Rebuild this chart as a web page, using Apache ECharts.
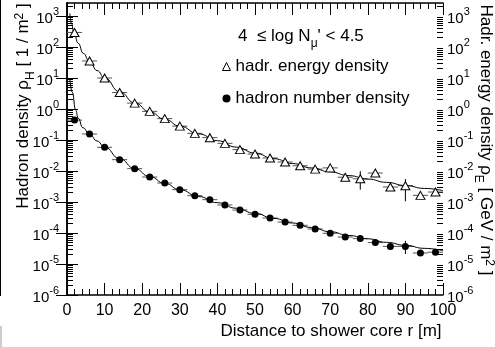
<!DOCTYPE html>
<html><head><meta charset="utf-8">
<script src="https://cdn.jsdelivr.net/npm/echarts@6/dist/echarts.min.js"></script>
<style>html,body{margin:0;padding:0;background:#fff}#c{width:495px;height:347px}</style>
</head><body><div id="c"></div>
<script>
// ---- data ----
const binCenters = [2,6,10,14,18,22,26,30,34,38,42,46,50,54,58,62,66,70,74,78,82,86,90,94,98];
const energyDensity = [295,35.5,10,3.4,1.55,0.84,0.49,0.28,0.164,0.119,0.078,0.049,0.0353,0.0263,0.0195,0.0148,0.0115,0.0126,0.0063,0.0056,0.0086,0.00305,0.00336,0.00164,0.0021];
const numberDensity = [0.44,0.156,0.058,0.0232,0.0119,0.0064,0.0041,0.0025,0.0016,0.00119,0.0008,0.00055,0.0004,0.000305,0.000226,0.000177,0.000135,0.000098,0.000074,0.000066,0.000049,0.000037,0.000037,0.0000227,0.000024];
const energyFitX = [0.75,1.2,1.8,3,4.3,6,8,10,14,18,22,26,30,35,40,45,50,55,60,65,70,75,80,85,90,95,100];
const energyFitY = [1230,575,295,132,63,34,17.4,10,3.6,1.58,0.81,0.47,0.28,0.158,0.095,0.059,0.038,0.025,0.0174,0.0126,0.0093,0.0071,0.0055,0.0043,0.0034,0.00275,0.00232];
const numberFitX = [0.75,1.4,2.3,3,4.2,6,8,10,14,18,22,26,30,35,40,45,50,55,60,65,70,75,80,85,90,95,100];
const numberFitY = [9.3,3.5,0.93,0.50,0.25,0.155,0.093,0.059,0.025,0.012,0.0066,0.004,0.0025,0.0015,0.00095,0.00063,0.00043,0.000295,0.00021,0.000151,0.00011,0.000083,0.000065,0.00005,0.00004,0.000032,0.000027];
const energyErrX = [78,90];
const energyErrLow = [0.0025,0.00105];
const energyErrHigh = [0.0099,0.0055];
const numberErrX = [90];
const numberErrLow = [0.000021];
const numberErrHigh = [0.000056];
const binHalfWidth = 2;
const seriesNames = ['hadr. energy density','hadron number density'];
const xMin = 0, xMax = 100, xStep = 10;
const yMin = 1e-6, yMax = Math.pow(10, 3.42);

// ---- helpers ----
const FONT = '"Liberation Sans", Arial, Helvetica, sans-serif';
const zip = (a, b) => a.map((v, i) => [v, b[i]]);
const minorLogTicks = [];
for (let d = -6; d <= 3; d++) for (let k = 2; k <= 9; k++) { const v = k * Math.pow(10, d); if (v < yMax) minorLogTicks.push(v); }
function decadeLabel(v) {
  const l = Math.log10(v), e = Math.round(l);
  if (Math.abs(l - e) > 1e-6) return '';
  return '{b|10}{s|' + (e < 0 ? '-' + (-e) : '' + e) + '}';
}
const labelRich = {
  b: { fontSize: 15, fontFamily: FONT, color: '#000', lineHeight: 20, verticalAlign: 'bottom' },
  s: { fontSize: 11, fontFamily: FONT, color: '#000', lineHeight: 11, verticalAlign: 'top' }
};
function makeRich(size) {
  return {
    t: { fontSize: size, fontFamily: FONT, fontWeight: 'normal', color: '#000', lineHeight: size + 2 },
    sub: { fontSize: Math.round(size * 0.68), fontFamily: FONT, fontWeight: 'normal', color: '#000', lineHeight: 10, verticalAlign: 'bottom', padding: [0,0,-4,0] },
    sup: { fontSize: Math.round(size * 0.68), fontFamily: FONT, fontWeight: 'normal', color: '#000', lineHeight: 10, verticalAlign: 'top' }
  };
}
function mainY(pos, name, gap, rot, pad) {
  return {
    type: 'log', position: pos, min: yMin, max: yMax, logBase: 10, splitNumber: 10,
    axisLine: { show: true, lineStyle: { color: '#000', width: 1.5 } },
    axisTick: { show: true, inside: true, length: 11, lineStyle: { color: '#000', width: 1 } },
    axisLabel: { show: true, formatter: decadeLabel, rich: labelRich, margin: pos === 'left' ? 8 : 4, showMaxLabel: false },
    splitLine: { show: false },
    name: name, nameLocation: 'middle', nameGap: gap, nameRotate: rot, nameMoveOverlap: false,
    nameTextStyle: { rich: makeRich(17), padding: pad }
  };
}
function minorY(pos) {
  return {
    type: 'log', position: pos, min: yMin, max: yMax, logBase: 10,
    axisLine: { show: false },
    axisTick: { show: true, inside: true, length: 6, customValues: minorLogTicks, lineStyle: { color: '#000', width: 1 } },
    axisLabel: { show: false }, splitLine: { show: false }
  };
}
function xAx(pos, labels) {
  return {
    type: 'value', position: pos, min: xMin, max: xMax, interval: xStep,
    axisLine: { show: true, lineStyle: { color: '#000', width: 1.5 } },
    axisTick: { show: true, inside: true, length: 12, lineStyle: { color: '#000', width: 1 } },
    minorTick: { show: true, splitNumber: 5, length: 6, lineStyle: { color: '#000', width: 1 } },
    axisLabel: { show: labels, fontSize: 16, fontFamily: FONT, color: '#000', margin: 8, hideOverlap: false },
    splitLine: { show: false }, minorSplitLine: { show: false }
  };
}
function hBar(params, api) {
  const x = api.value(0), y = api.value(1);
  const p1 = api.coord([x - binHalfWidth, y]), p2 = api.coord([x + binHalfWidth, y]);
  return { type: 'line', shape: { x1: p1[0], y1: p1[1], x2: p2[0], y2: p2[1] }, style: { stroke: '#555', lineWidth: 1 } };
}
function vBar(params, api) {
  const x = api.value(0);
  const p1 = api.coord([x, api.value(1)]), p2 = api.coord([x, api.value(2)]);
  return { type: 'line', shape: { x1: p1[0], y1: p1[1], x2: p2[0], y2: p2[1] }, style: { stroke: '#000', lineWidth: 1 } };
}

const chart = echarts.init(document.getElementById('c'), null, { renderer: 'canvas' });
const xName = xAx('bottom', true);
Object.assign(xName, {
  name: 'Distance to shower core r [m]', nameLocation: 'middle', nameGap: 28, nameMoveOverlap: false,
  nameTextStyle: { fontSize: 17, fontFamily: FONT, color: '#000', verticalAlign: 'top', padding: [0, 0, 0, 152] }
});
chart.setOption({
  animation: false,
  backgroundColor: '#fff',
  grid: { left: 67, right: 52, top: 3, bottom: 52, containLabel: false, outerBoundsMode: 'none' },
  title: {
    text: '{t|4  \u2264 log N}{sub|\u03bc}{t|\' < 4.5}', left: 233, top: 22,
    textStyle: { fontWeight: 'normal', rich: makeRich(17) }
  },
  legend: {
    orient: 'vertical', left: 217, top: 52, itemWidth: 8, itemHeight: 8, itemGap: 13,
    textStyle: { fontSize: 17, fontFamily: FONT, color: '#000', lineHeight: 19 },
    data: [
      { name: seriesNames[0], icon: 'triangle', itemStyle: { color: '#fff', borderColor: '#000', borderWidth: 1 } },
      { name: seriesNames[1], icon: 'circle', itemStyle: { color: '#000', borderWidth: 0 } }
    ]
  },
  xAxis: [xName, xAx('top', false)],
  yAxis: [
    mainY('left', '{t|Hadron density \u03c1}{sub|H}{t| [ 1 / m}{sup|2}{t| ]}', 34, 90, [0, 0, 0, 86]),
    mainY('right', '{t|Hadr. energy density \u03c1}{sub|E}{t| [ GeV / m}{sup|2}{t| ]}', 33, -90, [0, 18, 0, 0]),
    minorY('left'), minorY('right')
  ],
  graphic: [
    { type: 'line', shape: { x1: 0.5, y1: 0, x2: 0.5, y2: 296 }, style: { stroke: '#000', lineWidth: 1 } },
    { type: 'line', shape: { x1: 1, y1: 326, x2: 1, y2: 347 }, style: { stroke: '#ccc', lineWidth: 2 } }
  ],
  series: [
    { type: 'custom', name: 'eH', xAxisIndex: 0, yAxisIndex: 1, z: 1, renderItem: hBar, data: zip(binCenters, energyDensity) },
    { type: 'custom', name: 'nH', xAxisIndex: 0, yAxisIndex: 0, z: 1, renderItem: hBar, data: zip(binCenters, numberDensity) },
    { type: 'custom', name: 'eV', xAxisIndex: 0, yAxisIndex: 1, z: 1, renderItem: vBar, encode: { x: 0, y: [1, 2] },
      data: energyErrX.map((x, i) => [x, energyErrLow[i], energyErrHigh[i]]) },
    { type: 'custom', name: 'nV', xAxisIndex: 0, yAxisIndex: 0, z: 1, renderItem: vBar, encode: { x: 0, y: [1, 2] },
      data: numberErrX.map((x, i) => [x, numberErrLow[i], numberErrHigh[i]]) },
    { type: 'line', name: 'eFit', xAxisIndex: 0, yAxisIndex: 1, z: 2, showSymbol: false, smooth: true, smoothMonotone: 'x',
      lineStyle: { color: '#000', width: 1 }, data: zip(energyFitX, energyFitY) },
    { type: 'line', name: 'nFit', xAxisIndex: 0, yAxisIndex: 0, z: 2, showSymbol: false, smooth: true, smoothMonotone: 'x',
      lineStyle: { color: '#000', width: 1 }, data: zip(numberFitX, numberFitY) },
    { type: 'scatter', name: seriesNames[0], xAxisIndex: 0, yAxisIndex: 1, z: 3, symbol: 'triangle', symbolSize: [9, 8],
      itemStyle: { color: '#fff', borderColor: '#000', borderWidth: 1, opacity: 1 }, data: zip(binCenters, energyDensity) },
    { type: 'scatter', name: seriesNames[1], xAxisIndex: 0, yAxisIndex: 0, z: 3, symbol: 'circle', symbolSize: 7,
      itemStyle: { color: '#000', opacity: 1 }, data: zip(binCenters, numberDensity) }
  ]
});
</script>
</body></html>
